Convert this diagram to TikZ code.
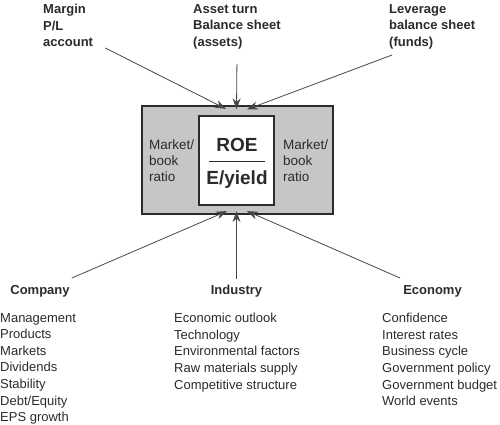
\documentclass[tikz,border=0pt]{standalone}
\usepackage{fontspec}
\setmainfont{Liberation Sans}
\usepackage{tikz}
\usetikzlibrary{arrows.meta, positioning}
\definecolor{boxgrey}{HTML}{C6C6C8}
\definecolor{ink}{HTML}{2B2B2B}
\definecolor{wire}{HTML}{474747}

\begin{document}
\begin{tikzpicture}[x=1pt, y=-1pt,
  every node/.style={inner sep=0pt, text=ink},
  lab/.style={font=\bfseries\fontsize{13}{16.5}\selectfont, align=left, anchor=north west},
  head/.style={font=\bfseries\fontsize{13}{16.5}\selectfont, anchor=north},
  items/.style={font=\fontsize{13}{16.6}\selectfont, align=left, anchor=north west},
  ratio/.style={font=\fontsize{13.5}{16}\selectfont, align=left, anchor=north west},
  big/.style={font=\bfseries\fontsize{19}{22}\selectfont, anchor=base},
  feed/.style={draw=wire, line width=0.8pt, -{Stealth[length=11pt, width=8pt]}},
]
\useasboundingbox (0,0) rectangle (500,424);
%
\node (outer) [draw=ink, line width=1.2pt, fill=boxgrey,
      minimum width=191pt, minimum height=108pt] at (237.5,160) {};
\node (inner) [draw=ink, line width=1.2pt, fill=white,
      minimum width=75pt, minimum height=89pt] at (236.5,160.5) {};
\node (roe)    [big] at (237,151) {ROE};
\node (eyield) [big] at (237,184) {E/yield};
\draw[ink, line width=1pt] (209,161) -- (265,161);
\node (mbleft)  [ratio] at (149,140) {Market/\\book\\ratio};
\node (mbright) [ratio] at (283,140) {Market/\\book\\ratio};

\node (margin)   [lab] at (43,4)  {Margin\\P/L\\account};
\node (asset)    [lab] at (193,4) {Asset turn\\Balance sheet\\(assets)};
\node (leverage) [lab] at (389,4) {Leverage\\balance sheet\\(funds)};

\node (company)  [head] at (40,285)    {Company};
\node (industry) [head] at (236.5,285) {Industry};
\node (economy)  [head] at (432.5,285) {Economy};

\node (complist) [items] at (0,313)   {Management\\Products\\Markets\\Dividends\\Stability\\Debt/Equity\\EPS growth};
\node (indlist)  [items] at (174,313) {Economic outlook\\Technology\\Environmental factors\\Raw materials supply\\Competitive structure};
\node (ecolist)  [items] at (382,313) {Confidence\\Interest rates\\Business cycle\\Government policy\\Government budget\\World events};

\draw[feed] ([xshift=12pt, yshift=-1pt]margin.south east) -- ([xshift=-11.5pt, yshift=-3.5pt]outer.north);
\draw[feed] ([yshift=-15pt]asset.south) -- ([xshift=-1pt, yshift=-4pt]outer.north);
\draw[feed] ([xshift=3pt, yshift=-6pt]leverage.south west) -- ([xshift=9.5pt, yshift=-4pt]outer.north);

\draw[feed] ([xshift=2pt, yshift=7pt]company.north east) -- ([xshift=-10.5pt, yshift=3.5pt]outer.south);
\draw[feed] ([yshift=6pt]industry.north) -- ([xshift=-1pt, yshift=3.5pt]outer.south);
\draw[feed] ([xshift=-3pt, yshift=7pt]economy.north west) -- ([xshift=9.5pt, yshift=3.5pt]outer.south);
%
\end{tikzpicture}
\end{document}
